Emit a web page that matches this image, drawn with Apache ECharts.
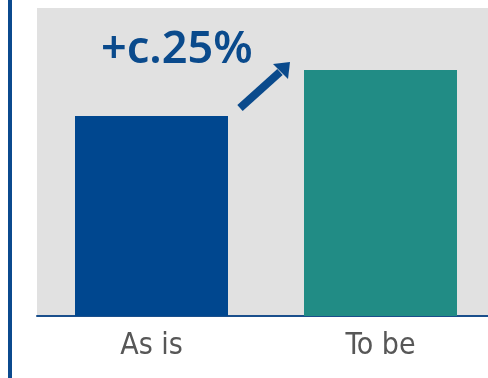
<!DOCTYPE html>
<html>
<head>
<meta charset="utf-8">
<script src="https://cdn.jsdelivr.net/npm/echarts@6/dist/echarts.min.js"></script>
<style>
  html, body { margin: 0; padding: 0; background: #ffffff; }
  #chart { width: 488px; height: 378px; }
</style>
</head>
<body>
<div id="chart"></div>
<script>
// Categories and values (As is indexed to 100)
const categories = ['As is', 'To be'];
const values = [100, 123];
const barColors = ['#00478f', '#218c85'];
const changeLabel = '+c.25%';

const chart = echarts.init(document.getElementById('chart'), null, { renderer: 'canvas' });

const navy = '#0a4a8c';

chart.setOption({
  animation: false,
  grid: {
    left: 37, width: 458, top: 8, bottom: 62,
    outerBoundsMode: 'none',
    containLabel: false,
    show: true, backgroundColor: '#e1e1e1', borderWidth: 0
  },
  xAxis: {
    type: 'category',
    data: categories,
    axisTick: { show: false },
    axisLine: { lineStyle: { color: '#1a4f8c', width: 2 } },
    axisLabel: {
      color: '#575757', fontSize: 30, margin: 15,
      fontFamily: '"Liberation Sans Narrow", "DejaVu Sans Condensed", sans-serif'
    }
  },
  yAxis: {
    type: 'value', min: 0, max: 154, show: false,
    splitLine: { show: false }
  },
  series: [{
    type: 'bar',
    barWidth: 153,
    data: values.map((v, i) => ({ value: v, itemStyle: { color: barColors[i] } }))
  }],
  graphic: [
    // vertical rule on the left edge
    { type: 'line', shape: { x1: 10, y1: 0, x2: 10, y2: 378 },
      style: { stroke: '#0b4a8e', lineWidth: 4 } },
    // change annotation
    { type: 'text', left: 101, top: 28,
      style: { text: changeLabel, fill: navy, font: '600 45px "Noto Sans"' } },
    // arrow shaft
    { type: 'line', shape: { x1: 240, y1: 108, x2: 280, y2: 72 },
      style: { stroke: navy, lineWidth: 8 } },
    // arrow head
    { type: 'polygon', shape: { points: [[290, 62], [273, 64], [288, 79]] },
      style: { fill: navy } }
  ]
});
</script>
</body>
</html>
